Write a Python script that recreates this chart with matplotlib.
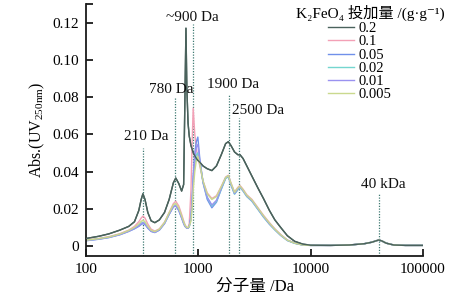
import matplotlib
matplotlib.use("Agg")
import matplotlib.pyplot as plt

plt.rcParams['font.family'] = ['Liberation Serif', 'DejaVu Serif', 'Noto Sans CJK SC']
plt.rcParams['mathtext.fontset'] = 'custom'
plt.rcParams['mathtext.rm'] = 'Liberation Serif'
plt.rcParams['mathtext.it'] = 'Liberation Serif:italic'

# ---------------- data ----------------
mw = [100, 130, 160, 200, 240, 270, 295, 310, 321, 335, 355, 380, 410, 450, 500,
      550, 600, 630, 670, 710, 740, 760, 776, 790, 810, 830, 860, 880, 900, 930,
      960, 990, 1030, 1100, 1200, 1320, 1450, 1600, 1750, 1850, 1950, 2100, 2250,
      2350, 2500, 2700, 3000, 3400, 3800, 4300, 4800, 5400, 6200, 7200, 8500,
      10000, 15000, 22000, 30000, 35000, 38000, 40400, 43000, 47000, 55000,
      70000, 100000]

abs_02 = [0.0040, 0.0052, 0.0065, 0.0085, 0.0105, 0.0130, 0.0190, 0.0250, 0.0280,
          0.0250, 0.0180, 0.0135, 0.0125, 0.0140, 0.0180, 0.0250, 0.0340, 0.0365,
          0.0335, 0.0295, 0.0330, 0.0800, 0.1170, 0.0850, 0.0660, 0.0590, 0.0540,
          0.0520, 0.0500, 0.0485, 0.0470, 0.0460, 0.0450, 0.0430, 0.0415, 0.0405,
          0.0430, 0.0490, 0.0550, 0.0560, 0.0540, 0.0505, 0.0490, 0.0490, 0.0470,
          0.0430, 0.0375, 0.0310, 0.0255, 0.0190, 0.0140, 0.0100, 0.0055, 0.0025,
          0.0010, 0.0004, 0.0003, 0.0005, 0.0012, 0.0020, 0.0027, 0.0032, 0.0027,
          0.0015, 0.0005, 0.0003, 0.0003]

abs_01 = [0.0032, 0.0040, 0.0050, 0.0066, 0.0085, 0.0105, 0.0130, 0.0150, 0.0160,
          0.0150, 0.0118, 0.0090, 0.0080, 0.0092, 0.0128, 0.0180, 0.0228, 0.0240,
          0.0215, 0.0170, 0.0135, 0.0115, 0.0105, 0.0100, 0.0098, 0.0120, 0.0300,
          0.0550, 0.0740, 0.0600, 0.0520, 0.0480, 0.0430, 0.0350, 0.0285, 0.0255,
          0.0270, 0.0320, 0.0370, 0.0380, 0.0340, 0.0290, 0.0315, 0.0325, 0.0305,
          0.0275, 0.0250, 0.0205, 0.0165, 0.0125, 0.0092, 0.0062, 0.0032, 0.0016,
          0.0006, 0.0003, 0.0003, 0.0005, 0.0012, 0.0020, 0.0027, 0.0032, 0.0027,
          0.0015, 0.0005, 0.0003, 0.0003]

abs_005 = [0.0028, 0.0036, 0.0045, 0.0060, 0.0078, 0.0092, 0.0105, 0.0115, 0.0120,
           0.0115, 0.0095, 0.0078, 0.0072, 0.0085, 0.0120, 0.0170, 0.0210, 0.0215,
           0.0190, 0.0150, 0.0120, 0.0105, 0.0100, 0.0095, 0.0095, 0.0105, 0.0160,
           0.0250, 0.0380, 0.0500, 0.0560, 0.0585, 0.0470, 0.0340, 0.0250, 0.0205,
           0.0235, 0.0305, 0.0365, 0.0375, 0.0330, 0.0280, 0.0305, 0.0318, 0.0298,
           0.0268, 0.0243, 0.0198, 0.0158, 0.0118, 0.0088, 0.0058, 0.0030, 0.0015,
           0.0005, 0.0003, 0.0003, 0.0005, 0.0012, 0.0020, 0.0027, 0.0032, 0.0027,
           0.0015, 0.0005, 0.0003, 0.0003]

abs_002 = [0.0030, 0.0038, 0.0047, 0.0062, 0.0080, 0.0095, 0.0110, 0.0122, 0.0128,
           0.0122, 0.0100, 0.0080, 0.0074, 0.0087, 0.0122, 0.0172, 0.0212, 0.0218,
           0.0194, 0.0154, 0.0124, 0.0108, 0.0102, 0.0097, 0.0096, 0.0104, 0.0140,
           0.0220, 0.0340, 0.0440, 0.0490, 0.0500, 0.0450, 0.0345, 0.0260, 0.0215,
           0.0240, 0.0305, 0.0362, 0.0372, 0.0328, 0.0278, 0.0302, 0.0315, 0.0295,
           0.0265, 0.0240, 0.0195, 0.0155, 0.0116, 0.0086, 0.0057, 0.0029, 0.0014,
           0.0005, 0.0003, 0.0003, 0.0005, 0.0012, 0.0020, 0.0027, 0.0032, 0.0027,
           0.0015, 0.0005, 0.0003, 0.0003]

abs_001 = [0.0029, 0.0037, 0.0046, 0.0061, 0.0079, 0.0094, 0.0108, 0.0119, 0.0125,
           0.0119, 0.0098, 0.0079, 0.0073, 0.0086, 0.0121, 0.0171, 0.0211, 0.0216,
           0.0192, 0.0152, 0.0122, 0.0106, 0.0101, 0.0096, 0.0095, 0.0104, 0.0150,
           0.0240, 0.0360, 0.0470, 0.0530, 0.0545, 0.0460, 0.0345, 0.0262, 0.0220,
           0.0245, 0.0310, 0.0366, 0.0376, 0.0332, 0.0282, 0.0306, 0.0318, 0.0298,
           0.0268, 0.0243, 0.0198, 0.0158, 0.0118, 0.0088, 0.0058, 0.0030, 0.0015,
           0.0005, 0.0003, 0.0003, 0.0005, 0.0012, 0.0020, 0.0027, 0.0032, 0.0027,
           0.0015, 0.0005, 0.0003, 0.0003]

abs_0005 = [0.0031, 0.0039, 0.0048, 0.0064, 0.0083, 0.0100, 0.0118, 0.0132, 0.0138,
            0.0130, 0.0106, 0.0084, 0.0077, 0.0090, 0.0126, 0.0178, 0.0222, 0.0228,
            0.0204, 0.0162, 0.0130, 0.0112, 0.0104, 0.0099, 0.0098, 0.0106, 0.0135,
            0.0200, 0.0300, 0.0400, 0.0460, 0.0480, 0.0440, 0.0350, 0.0280, 0.0250,
            0.0265, 0.0318, 0.0368, 0.0378, 0.0338, 0.0288, 0.0312, 0.0322, 0.0302,
            0.0272, 0.0247, 0.0202, 0.0162, 0.0122, 0.0090, 0.0060, 0.0031, 0.0015,
            0.0005, 0.0003, 0.0003, 0.0005, 0.0012, 0.0020, 0.0027, 0.0032, 0.0027,
            0.0015, 0.0005, 0.0003, 0.0003]

series_labels = ['0.2', '0.1', '0.05', '0.02', '0.01', '0.005']
series_values = [abs_02, abs_01, abs_005, abs_002, abs_001, abs_0005]
series_colors = ['#4a625c', '#f3a0b6', '#7090ea', '#74d6cf', '#9a92f0', '#cad98e']

ref_mw = [321, 617, 896, 1871, 2296, 40400]
ref_top = [0.0527, 0.080, 0.119, 0.081, 0.069, 0.028]
ref_labels = ['210 Da', '780 Da', '~900 Da', '1900 Da', '2500 Da', '40 kDa']
ref_label_x = [342, 571, 877, 2036, 3393, 43900]
ref_label_y = [0.0586, 0.0838, 0.1225, 0.0865, 0.0730, 0.0328]

y_ticks = [0, 0.02, 0.04, 0.06, 0.08, 0.10, 0.12]
y_tick_labels = ['0', '0.02', '0.04', '0.06', '0.08', '0.10', '0.12']
x_ticks = [100, 1000, 10000, 100000]
x_tick_labels = ['100', '1000', '10000', '100000']

# ---------------- figure ----------------
fig = plt.figure(figsize=(4.73, 2.96), dpi=100)
ax = fig.add_axes([86/473, 1 - 256/296, 337/473, 252/296])

ymin, ymax = -0.0054, 0.130
ax.set_xscale('log')
ax.set_xlim(100, 100000)
ax.set_ylim(ymin, ymax)

for m, top in zip(ref_mw, ref_top):
    ax.plot([m, m], [ymin, top], linestyle=(0, (1, 1.2)), color='#3f7a72',
            linewidth=0.9, zorder=1)

handles = []
for vals, lab, col in zip(series_values, series_labels, series_colors):
    h, = ax.plot(mw, vals, color=col, linewidth=1.0, label=lab, zorder=2)
    handles.append(h)
# redraw darkest on top
ax.plot(mw, abs_02, color=series_colors[0], linewidth=1.0, zorder=3)

for lx, ly, lab in zip(ref_label_x, ref_label_y, ref_labels):
    ax.text(lx, ly, lab, ha='center', va='center', fontsize=11, color='#111111')

ax.spines['top'].set_visible(False)
ax.spines['right'].set_visible(False)
for s in ('left', 'bottom'):
    ax.spines[s].set_linewidth(1.3)
    ax.spines[s].set_color('#1a1a1a')
ax.spines['left'].set_bounds(ymin, ymax)

ax.set_yticks(y_ticks + [0.130])
ax.set_yticklabels(y_tick_labels + [''])
ax.set_xticks(x_ticks)
ax.set_xticklabels(x_tick_labels)
ax.xaxis.set_minor_locator(matplotlib.ticker.NullLocator())
ax.tick_params(axis='both', direction='in', length=5, width=1.3, labelsize=11,
               color='#1a1a1a', pad=5)

ax.set_xlabel('分子量 /Da', fontsize=12, labelpad=2)
ax.set_ylabel(r'Abs.(UV$_{\mathrm{250nm}}$)', fontsize=11.5, labelpad=4)

fig.text(370/473, 1 - 13/296, 'K₂FeO₄ 投加量 /(g·g⁻¹)', ha='center', va='center',
         fontsize=11)
ax.legend(handles=handles, loc='upper left',
          bbox_to_anchor=((328 - 86)/337, (256 - 22)/252),
          frameon=False, fontsize=10.5, labelspacing=0.0, handlelength=1.8,
          handletextpad=0.3, borderpad=0, borderaxespad=0)

fig.savefig('out.png', dpi=100)
